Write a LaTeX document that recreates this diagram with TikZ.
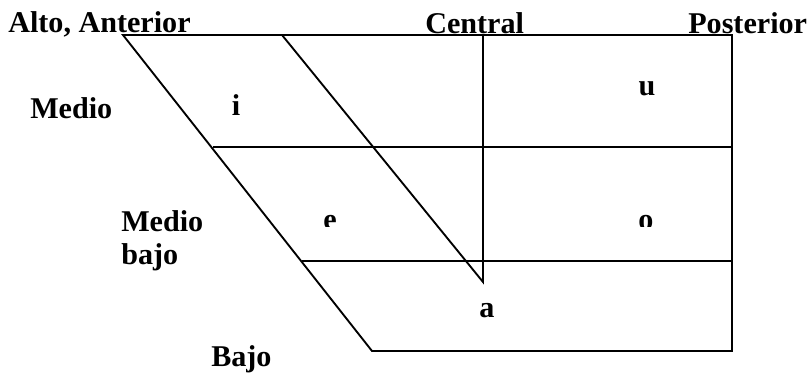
\documentclass[tikz,border=0pt]{standalone}
\usepackage{fontspec}
\setmainfont{Liberation Serif}
\usetikzlibrary{positioning,calc}

\tikzset{
  chart line/.style={line width=1.4pt, black},
  side label/.style={font=\fontsize{22.6}{25}\selectfont\bfseries, inner sep=0pt, anchor=base west},
  vowel/.style={font=\fontsize{22.6}{25}\selectfont\bfseries, inner sep=0pt, anchor=base},
}

\begin{document}
\begin{tikzpicture}[x=0.75pt, y=-0.75pt]
  \useasboundingbox (0,0) rectangle (809,375);

  % Corners of the chart
  \coordinate (topleft) at (123,35);
  \coordinate (topright) at (732,35);
  \coordinate (botright) at (732,351);
  \coordinate (botleft) at (372,351);
  \coordinate (midleft) at (213,147);
  \coordinate (midright) at (732,147);
  \coordinate (lowleft) at (302,261);
  \coordinate (lowright) at (732,261);
  \coordinate (slanttop) at (282,35);
  \coordinate (central) at (483,282);
  \coordinate (centraltop) at (483,35);

  % Outline
  \draw[chart line] (topleft) -- (topright) -- (botright) -- (botleft) -- cycle;

  % Horizontal divisions
  \draw[chart line] (midleft) -- (midright);
  \draw[chart line] (lowleft) -- (lowright);

  % Central slant and vertical
  \draw[chart line] (slanttop) -- (central) -- (centraltop);

  % Labels
  \node[side label] (alto) at (8,32) {Alto, Anterior};
  \node[side label] (centrallbl) at (425,33) {Central};
  \node[side label] (posterior) at (688,33) {Posterior};
  \node[side label] (medio) at (30,118) {Medio};
  \node[side label] (mediobajo) at (121,231) {Medio};
  \node[side label] (bajo1) at (121,264) {bajo};
  \node[side label] (bajo2) at (211,366) {Bajo};

  % Vowels
  \node[vowel] (i) at (236,115) {i};
  \node[vowel] (u) at (647,95) {u};
  \node[vowel] (a) at (487,317) {a};
  \begin{scope}
    \clip (0,0) rectangle (809,226);
    \node[vowel] (e) at (330,229) {e};
    \node[vowel] (o) at (646,229) {o};
  \end{scope}
\end{tikzpicture}
\end{document}
